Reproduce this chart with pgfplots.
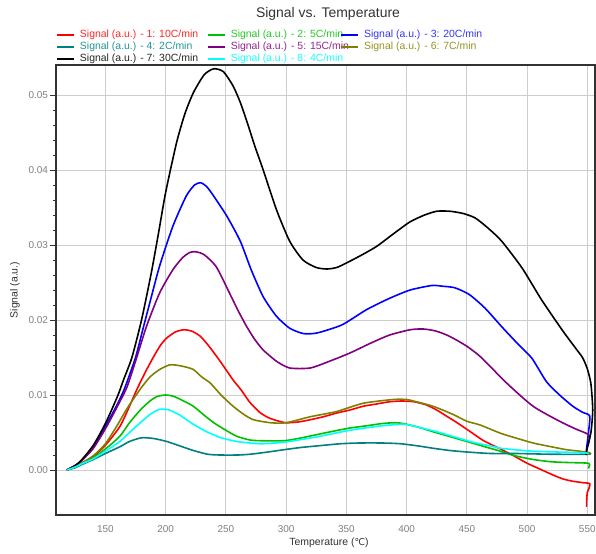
\documentclass[border=0pt]{standalone}
\usepackage{fontspec}
\setmainfont{Liberation Sans}
\newfontfamily\dejavu{DejaVu Sans}
\usepackage{pgfplots}
\pgfplotsset{compat=1.18}
\definecolor{cRed}{RGB}{255,0,0}
\definecolor{cGreen}{RGB}{0,192,0}
\definecolor{cBlue}{RGB}{0,0,255}
\definecolor{cTeal}{RGB}{0,128,128}
\definecolor{cPurple}{RGB}{128,0,128}
\definecolor{cOlive}{RGB}{128,128,0}
\definecolor{cBlack}{RGB}{0,0,0}
\definecolor{cCyan}{RGB}{0,255,255}
\definecolor{gridc}{RGB}{205,205,205}
\definecolor{tickc}{RGB}{128,128,128}
\definecolor{axc}{RGB}{50,50,50}
\newcommand{\leg}[3]{\makebox[#1][l]{\hspace{5bp}\textcolor{#2}{#3}}}
\begin{document}
\begin{tikzpicture}
\begin{axis}[
  at={(0,0)}, anchor=south west,
  scale only axis, width=539bp, height=450bp,
  xmin=109, xmax=556.4, ymin=-0.006, ymax=0.054,
  xtick={150,200,...,550}, ytick={0,0.01,0.02,0.03,0.04,0.05},
  minor y tick num=4,
  scaled y ticks=false,
  xmajorgrids, ymajorgrids,
  major grid style={gridc, line width=0.9bp},
  axis line style={axc, line width=1.2bp},
  tick align=outside,
  major tick length=6bp, minor tick length=3bp,
  ytick pos=left, xtick pos=bottom,
  ytick style={axc, line width=0.8bp},
  xtick style={draw=none},
  /pgf/number format/assume math mode=true,
  yticklabel style={tickc, font=\fontsize{10}{10}\selectfont, xshift=1.5bp,
    /pgf/number format/fixed, /pgf/number format/fixed zerofill, /pgf/number format/precision=2},
  xticklabel style={tickc, font=\fontsize{10}{10}\selectfont, yshift=-1.5bp},
  xlabel={Temperature ({\dejavu\fontsize{9.5}{10}\selectfont ℃})},
  ylabel={Signal (a.u.)},
  xlabel style={at={(axis description cs:0.5065,-0.0622)}, anchor=center, yshift=0pt, font=\fontsize{10.5}{11}\selectfont, text=axc},
  ylabel style={at={(axis description cs:-0.0761,0.5)}, anchor=center, font=\fontsize{10.5}{11}\selectfont, text=axc},
  every axis title shift=0pt,
  title={Signal vs. Temperature},
  title style={at={(axis description cs:0.5046,1.114)}, anchor=center, yshift=0pt, font=\fontsize{14}{14}\selectfont, text=axc},
  legend columns=3,
  legend style={at={(axis description cs:0,1.0790)}, anchor=north west, draw=none, fill=none,
    inner sep=0pt, row sep=2bp, column sep=0pt,
    font=\fontsize{10.5}{10.5}\selectfont,
    nodes={inner sep=0pt, text height=7.5bp, text depth=2.5bp}},
  legend cell align=left,
  legend image code/.code={\draw[#1, line width=1.8bp] (0bp,0bp) -- (17bp,0bp);},
  every axis plot/.append style={line width=1.6bp, line join=round, no markers, smooth, tension=0.4},
]
\addplot[cRed] coordinates {(118,0) (125,0.0005) (130,0.0009) (140,0.0018) (150,0.0033) (162,0.0058) (170,0.0085) (176,0.0107) (183,0.0130) (190,0.0151) (196,0.0167) (201,0.0176) (208,0.0184) (215,0.0187) (222,0.0185) (229,0.0178) (236,0.0165) (243,0.0150) (250,0.0134) (256,0.0120) (263,0.0106) (270,0.0090) (278,0.0077) (285,0.0070) (292,0.0066) (300,0.0063) (310,0.0064) (320,0.0067) (331,0.0071) (342,0.0076) (353,0.0080) (364,0.0085) (375,0.0088) (386,0.0091) (396,0.0092) (406,0.0091) (416,0.0087) (425,0.0080) (433,0.0072) (442,0.0063) (453,0.0051) (464,0.0039) (478,0.0028) (490,0.0018) (500,0.0009) (511,0.0001) (522,-0.0007) (530,-0.0012) (538,-0.0015) (547,-0.0017) (552,-0.0018) (551.5,-0.0024) (550,-0.0030) (549.5,-0.0040) (549.5,-0.0049)};
\addlegendentry{\leg{132bp}{cRed!85!white}{Signal (a.u.) - 1: 10C/min}}
\addplot[cGreen] coordinates {(118,0) (125,0.0004) (130,0.0008) (140,0.0016) (150,0.0028) (162,0.0045) (170,0.0063) (179,0.0080) (187,0.0092) (193,0.0098) (200,0.0100) (207,0.0098) (215,0.0092) (223,0.0085) (232,0.0073) (240,0.0063) (250,0.0053) (259,0.0045) (270,0.0040) (280,0.0039) (298,0.0039) (310,0.0042) (325,0.0047) (340,0.0052) (353,0.0056) (367,0.0059) (380,0.0062) (390,0.0063) (397,0.0062) (410,0.0057) (422,0.0051) (435,0.0045) (450,0.0038) (465,0.0031) (478,0.0025) (490,0.0019) (505,0.0014) (520,0.0011) (533,0.0010) (551,0.0009) (551.5,0.0005) (551,0.0002)};
\addlegendentry{\leg{114.5bp}{cGreen!85!white}{Signal (a.u.) - 2: 5C/min}}
\addplot[cBlue] coordinates {(118,0) (125,0.0006) (130,0.0012) (140,0.0030) (150,0.0058) (160,0.0088) (166,0.0109) (175,0.0150) (181,0.0187) (188,0.0230) (195,0.0272) (206,0.0325) (217,0.0365) (224,0.0380) (229,0.0383) (234,0.0378) (240,0.0365) (251,0.0338) (262,0.0305) (271,0.0267) (281,0.0231) (292,0.0205) (303,0.0189) (314,0.0182) (323,0.0182) (331,0.0185) (347,0.0194) (367,0.0214) (386,0.0229) (403,0.0240) (421,0.0246) (430,0.0245) (440,0.0243) (452,0.0234) (465,0.0216) (479,0.0191) (493,0.0167) (504,0.0149) (516,0.0118) (527,0.0100) (538,0.0085) (546,0.0077) (552,0.0072) (551,0.0050) (549.5,0.0030) (549,0.0022)};
\addlegendentry{\leg{120bp}{cBlue!80!white}{Signal (a.u.) - 3: 20C/min}}
\addplot[cTeal] coordinates {(118,0) (125,0.0003) (130,0.0007) (140,0.0014) (150,0.0022) (162,0.0031) (170,0.0038) (180,0.0043) (190,0.0042) (201,0.0038) (212,0.0032) (223,0.0026) (235,0.0021) (245,0.0020) (260,0.0020) (270,0.0021) (285,0.0024) (298,0.0027) (312,0.0030) (325,0.0032) (345,0.0035) (361,0.0036) (380,0.0036) (395,0.0035) (410,0.0032) (422,0.0029) (436,0.0026) (450,0.0024) (470,0.0022) (491,0.0022) (520,0.0021) (550,0.0021) (552,0.0022)};
\addlegendentry{\leg{132bp}{cTeal!85!white}{Signal (a.u.) - 4: 2C/min}}
\addplot[cPurple] coordinates {(118,0) (125,0.0006) (130,0.0012) (140,0.0029) (150,0.0055) (160,0.0085) (168,0.0111) (176,0.0150) (184,0.0191) (195,0.0236) (206,0.0267) (214,0.0283) (220,0.0290) (225,0.0291) (232,0.0287) (242,0.0271) (253,0.0236) (260,0.0213) (267,0.0192) (274,0.0174) (281,0.0160) (292,0.0145) (303,0.0136) (320,0.0136) (336,0.0145) (353,0.0156) (370,0.0169) (386,0.0180) (403,0.0187) (414,0.0188) (425,0.0185) (436,0.0178) (450,0.0165) (462,0.0150) (483,0.0116) (505,0.0085) (527,0.0065) (540,0.0055) (549,0.0049) (552,0.0045) (551,0.0035) (550,0.0030)};
\addlegendentry{\leg{114.5bp}{cPurple!85!white}{Signal (a.u.) - 5: 15C/min}}
\addplot[cOlive] coordinates {(118,0) (125,0.0004) (130,0.0009) (140,0.0019) (150,0.0035) (160,0.0060) (168,0.0082) (179,0.0108) (187,0.0124) (195,0.0134) (203,0.0140) (208,0.0140) (215,0.0138) (223,0.0134) (230,0.0124) (237,0.0116) (246,0.0100) (256,0.0085) (265,0.0074) (273,0.0067) (287,0.0063) (300,0.0063) (320,0.0071) (342,0.0078) (364,0.0089) (389,0.0094) (400,0.0094) (408,0.0091) (420,0.0086) (430,0.0080) (440,0.0073) (450,0.0065) (461,0.0060) (478,0.0049) (490,0.0043) (505,0.0036) (520,0.0031) (533,0.0027) (544,0.0025) (552,0.0023) (553,0.0021)};
\addlegendentry{\leg{120bp}{cOlive!85!white}{Signal (a.u.) - 6: 7C/min}}
\addplot[cBlack] coordinates {(118,0) (125,0.0006) (130,0.0013) (140,0.0033) (150,0.0062) (160,0.0098) (165,0.0120) (172,0.0150) (180,0.0200) (188,0.0262) (194,0.0315) (200,0.0370) (209,0.0436) (216,0.0475) (223,0.0503) (232,0.0527) (240,0.0535) (248,0.0531) (256,0.0512) (262,0.0490) (268,0.0462) (274,0.0432) (281,0.0400) (292,0.0347) (303,0.0305) (314,0.0280) (325,0.0270) (334,0.0268) (342,0.0270) (350,0.0276) (362,0.0286) (375,0.0298) (390,0.0316) (403,0.0331) (415,0.0340) (425,0.0345) (436,0.0345) (447,0.0342) (457,0.0336) (468,0.0322) (479,0.0305) (496,0.0269) (512,0.0227) (529,0.0187) (540,0.0163) (546,0.0150) (550,0.0135) (553,0.0115) (554.5,0.0080) (553,0.0050) (550,0.0030) (549,0.0020)};
\addlegendentry{\leg{132bp}{black!85!white}{Signal (a.u.) - 7: 30C/min}}
\addplot[cCyan] coordinates {(118,0) (125,0.0004) (130,0.0008) (140,0.0015) (150,0.0025) (162,0.0038) (170,0.0050) (179,0.0063) (187,0.0074) (195,0.0081) (203,0.0080) (212,0.0073) (222,0.0062) (234,0.0051) (246,0.0043) (259,0.0038) (270,0.0036) (280,0.0035) (298,0.0037) (325,0.0044) (353,0.0053) (380,0.0059) (398,0.0061) (410,0.0057) (425,0.0051) (440,0.0044) (455,0.0037) (470,0.0032) (478,0.0029) (490,0.0027) (505,0.0025) (525,0.0024) (547,0.0023) (551,0.0022)};
\addlegendentry{\leg{114.5bp}{cCyan!90!white}{Signal (a.u.) - 8: 4C/min}}
\end{axis}
\pgfresetboundingbox
\path[use as bounding box] (-56bp,-39bp) rectangle (540bp,515bp);
\end{tikzpicture}
\end{document}
